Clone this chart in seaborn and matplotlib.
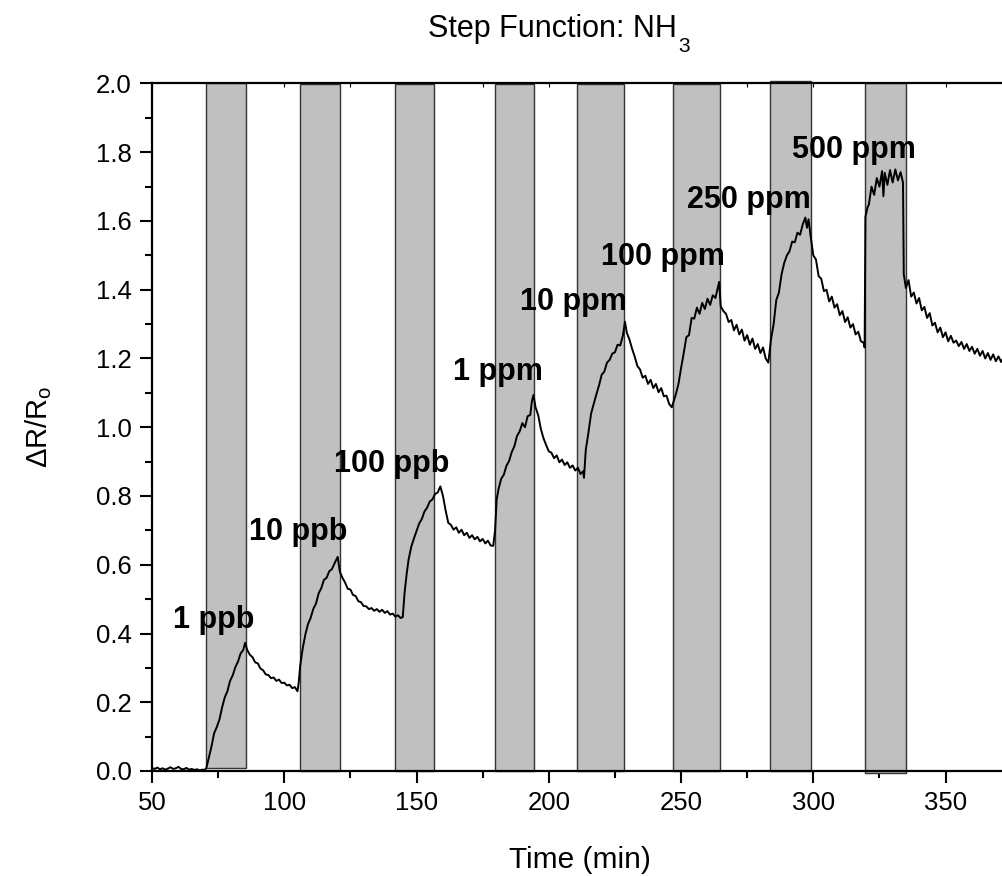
import matplotlib
matplotlib.use("Agg")
import matplotlib.pyplot as plt
import seaborn as sns
import pandas as pd
from matplotlib.ticker import MultipleLocator

# ---------------- data ----------------
time_min = [
    50, 51, 52, 53, 54, 55, 56, 57, 58, 59, 60, 61, 62, 63, 64, 65, 66, 67, 68, 69, 70,
    70.6, 71.5, 72.5, 73.5, 74.5, 75.5, 76.5, 77.5, 78.5, 79.5, 80.5, 81.5, 82.5, 83.5, 84.5, 85.2,
    86, 87, 88, 89, 90, 91, 92, 93, 94, 95, 96, 97, 98, 99, 100, 101, 102, 103, 104, 105,
    105.5, 106, 107, 108, 109, 110, 111, 112, 113, 114, 115, 116, 117, 118, 119, 120.2,
    121, 122, 123, 124, 125, 126, 127, 128, 129, 130, 131, 132, 133, 134, 135, 136, 137, 138, 139, 140, 141, 142, 143, 144,
    144.8, 145.5, 146.3, 147, 148, 149, 150, 151, 152, 153, 154, 155, 156, 157, 158, 159,
    160, 161, 162, 163, 164, 165, 166, 167, 168, 169, 170, 171, 172, 173, 174, 175, 176, 177, 178, 179,
    179.7, 180.3, 181, 182, 183, 184, 185, 186, 187, 188, 189, 190, 191, 192, 193, 193.6, 194.2,
    195, 196, 197, 198, 199, 200, 201, 202, 203, 204, 205, 206, 207, 208, 209, 210, 211, 212, 213, 213.3,
    214, 215, 216, 217, 218, 219, 220, 221, 222, 223, 224, 225, 226, 227, 228, 228.8,
    229.5, 230.5, 231.5, 232.5, 233.5, 234.5, 235.5, 236.5, 237.5, 238.5, 239.5, 240.5, 241.5, 242.5, 243.5, 244.5, 245.5, 246.5,
    247, 248, 249, 250, 251, 252, 253, 254, 255, 256, 257, 258, 259, 260, 261, 262, 263, 264.4,
    265, 266, 267, 268, 269, 270, 271, 272, 273, 274, 275, 276, 277, 278, 279, 280, 281, 282, 283,
    284, 285, 286, 287, 288, 289, 290, 291, 292, 293, 294, 295, 296, 297, 297.6, 298.2,
    299, 300, 301, 302, 303, 304, 305, 306, 307, 308, 309, 310, 311, 312, 313, 314, 315, 316, 317, 318, 319, 319.4,
    319.7, 320.5, 321, 322, 323, 324, 325, 326, 326.5, 327, 328, 329, 330, 331, 332, 333, 333.9,
    334.2, 335, 336, 337, 338, 339, 340, 341, 342, 343, 344, 345, 346, 347, 348, 349, 350, 351, 352, 353,
    354, 355, 356, 357, 358, 359, 360, 361, 362, 363, 364, 365, 366, 367, 368, 369, 370, 371, 372, 373, 374,
]
response = [
    0.009, 0.006, 0.010, 0.005, 0.008, 0.004, 0.007, 0.011, 0.006, 0.008, 0.012, 0.006, 0.005, 0.009, 0.004, 0.006, 0.003, 0.005, 0.002, 0.004, 0.003,
    0.010, 0.040, 0.072, 0.110, 0.128, 0.150, 0.185, 0.214, 0.232, 0.262, 0.278, 0.302, 0.318, 0.342, 0.352, 0.373,
    0.352, 0.338, 0.331, 0.316, 0.313, 0.298, 0.293, 0.281, 0.279, 0.270, 0.272, 0.262, 0.266, 0.256, 0.257, 0.249, 0.251, 0.241, 0.244, 0.232,
    0.260, 0.305, 0.358, 0.398, 0.428, 0.446, 0.472, 0.487, 0.517, 0.532, 0.556, 0.562, 0.581, 0.587, 0.604, 0.623,
    0.580, 0.562, 0.548, 0.530, 0.528, 0.512, 0.509, 0.494, 0.491, 0.480, 0.479, 0.471, 0.474, 0.466, 0.471, 0.463, 0.469, 0.460, 0.465, 0.455, 0.458, 0.449, 0.453, 0.445,
    0.448, 0.520, 0.575, 0.615, 0.652, 0.676, 0.698, 0.720, 0.733, 0.755, 0.766, 0.784, 0.790, 0.806, 0.810, 0.828,
    0.800, 0.758, 0.722, 0.716, 0.702, 0.709, 0.693, 0.702, 0.686, 0.693, 0.678, 0.686, 0.674, 0.681, 0.668, 0.675, 0.662, 0.670, 0.656, 0.655,
    0.700, 0.790, 0.820, 0.850, 0.862, 0.888, 0.902, 0.928, 0.945, 0.975, 0.988, 1.012, 1.000, 1.032, 1.036, 1.075, 1.094,
    1.058, 1.035, 0.995, 0.968, 0.948, 0.930, 0.926, 0.910, 0.918, 0.898, 0.906, 0.890, 0.898, 0.882, 0.889, 0.874, 0.882, 0.864, 0.872, 0.853,
    0.935, 0.985, 1.040, 1.068, 1.096, 1.122, 1.153, 1.162, 1.188, 1.196, 1.214, 1.218, 1.240, 1.238, 1.266, 1.307,
    1.275, 1.255, 1.228, 1.205, 1.178, 1.168, 1.144, 1.150, 1.126, 1.138, 1.114, 1.126, 1.102, 1.114, 1.090, 1.092, 1.068, 1.058,
    1.070, 1.095, 1.125, 1.172, 1.215, 1.262, 1.268, 1.318, 1.316, 1.348, 1.330, 1.362, 1.344, 1.374, 1.356, 1.384, 1.376, 1.423,
    1.352, 1.338, 1.330, 1.306, 1.312, 1.282, 1.298, 1.270, 1.284, 1.252, 1.268, 1.240, 1.258, 1.228, 1.242, 1.216, 1.232, 1.200, 1.188,
    1.255, 1.300, 1.370, 1.392, 1.445, 1.478, 1.500, 1.512, 1.540, 1.538, 1.566, 1.560, 1.590, 1.610, 1.580, 1.605,
    1.555, 1.500, 1.488, 1.440, 1.432, 1.396, 1.400, 1.366, 1.380, 1.348, 1.358, 1.326, 1.338, 1.306, 1.320, 1.290, 1.300, 1.270, 1.278, 1.250, 1.246, 1.232,
    1.612, 1.640, 1.648, 1.700, 1.676, 1.725, 1.700, 1.745, 1.672, 1.740, 1.705, 1.748, 1.712, 1.750, 1.718, 1.742, 1.712,
    1.445, 1.405, 1.428, 1.380, 1.392, 1.360, 1.376, 1.340, 1.350, 1.318, 1.332, 1.296, 1.304, 1.276, 1.290, 1.262, 1.276, 1.250, 1.266, 1.246,
    1.252, 1.236, 1.248, 1.228, 1.242, 1.222, 1.234, 1.214, 1.228, 1.208, 1.222, 1.200, 1.216, 1.196, 1.212, 1.192, 1.206, 1.190, 1.204, 1.188, 1.200,
]

# exposure windows (gas on)
exposure_start = [70.6, 106.0, 141.9, 179.6, 210.7, 246.8, 283.7, 319.6]
exposure_end = [85.5, 120.9, 156.6, 194.3, 228.5, 264.8, 299.2, 335.1]
exposure_bottom = [0.010, 0.0, 0.0, 0.0, 0.0, 0.0, 0.0, -0.007]
exposure_top = [2.0, 2.0, 2.0, 2.0, 2.0, 2.0, 2.008, 2.0]

conc_labels = ["1 ppb", "10 ppb", "100 ppb", "1 ppm", "10 ppm", "100 ppm", "250 ppm", "500 ppm"]
label_x = [73.3, 105.3, 140.6, 180.8, 209.3, 243.2, 275.7, 315.4]
label_y = [0.416, 0.672, 0.871, 1.137, 1.341, 1.472, 1.637, 1.782]

x_ticks = [50, 100, 150, 200, 250, 300, 350]
y_ticks = [0.0, 0.2, 0.4, 0.6, 0.8, 1.0, 1.2, 1.4, 1.6, 1.8, 2.0]

# ---------------- style ----------------
sns.set_theme(style="ticks")
plt.rcParams["font.family"] = ["Liberation Sans", "DejaVu Sans"]
plt.rcParams["mathtext.fontset"] = "custom"
plt.rcParams["mathtext.rm"] = "Liberation Sans"
plt.rcParams["mathtext.it"] = "Liberation Sans:italic"
plt.rcParams["mathtext.bf"] = "Liberation Sans:bold"

W, H = 1002, 876
fig = plt.figure(figsize=(W / 100, H / 100), dpi=100)
ax = fig.add_axes([152 / W, 105 / H, 856 / W, 687.5 / H])

df = pd.DataFrame({"Time (min)": time_min, "response": response})

widths = [e - s for s, e in zip(exposure_start, exposure_end)]
heights = [t - b for b, t in zip(exposure_bottom, exposure_top)]
bars = ax.bar(exposure_start, heights, width=widths, bottom=exposure_bottom,
              align="edge", color="#c0c0c0", edgecolor="#333333", linewidth=1.0,
              zorder=1)
for b in bars:
    b.set_clip_on(False)

sns.lineplot(data=df, x="Time (min)", y="response", ax=ax, color="black",
             linewidth=1.4, estimator=None, sort=False, zorder=3)

for txt, lx, ly in zip(conc_labels, label_x, label_y):
    ax.text(lx, ly, txt, ha="center", va="baseline", fontsize=22,
            fontweight="bold", color="black", zorder=4)

ax.set_xlim(50, 373.6)
ax.set_ylim(0.0, 2.0)
ax.set_xticks(x_ticks)
ax.set_yticks(y_ticks)
ax.set_yticklabels([f"{v:.1f}" for v in y_ticks])
ax.xaxis.set_minor_locator(MultipleLocator(25))
ax.yaxis.set_minor_locator(MultipleLocator(0.1))

ax.tick_params(axis="both", which="major", direction="out", length=8.5,
               width=1.5, labelsize=18.5, pad=6, color="black", labelcolor="black")
ax.tick_params(axis="both", which="minor", direction="out", length=5,
               width=1.5, color="black")
# small inward ticks on the top spine
ax.tick_params(axis="x", which="both", top=True, labeltop=False)
for t in ax.xaxis.get_major_ticks() + ax.xaxis.get_minor_ticks():
    t.tick2line.set_markersize(3)
    t.tick2line.set_markeredgewidth(0.8)
    t.tick2line.set_marker(3)

for side in ["left", "bottom", "top", "right"]:
    ax.spines[side].set_visible(True)
    ax.spines[side].set_linewidth(1.6)
    ax.spines[side].set_color("black")
ax.spines["top"].set_zorder(5)

ax.set_xlabel("Time (min)", fontsize=21.5, labelpad=22, color="black")
ax.set_ylabel(r"$\Delta$R/R$_\mathrm{o}$", fontsize=21, labelpad=30, color="black")

# title with a low-set subscript, as in the original
title_main = fig.text(428 / W, 1 - 37 / H, "Step Function: NH", ha="left",
                      va="baseline", fontsize=22, color="black")
fig.canvas.draw()
bb = title_main.get_window_extent(renderer=fig.canvas.get_renderer())
fig.text((bb.x1 + 1) / W, 1 - 52 / H, "3", ha="left", va="baseline",
         fontsize=15, color="black")

fig.savefig("out.png", dpi=100)
